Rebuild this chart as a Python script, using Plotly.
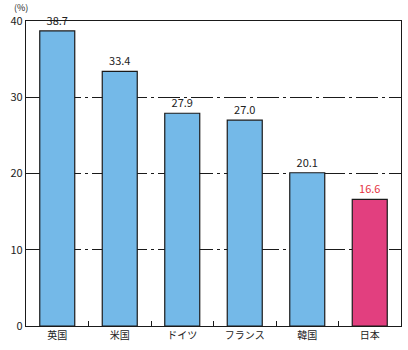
import plotly.graph_objects as go

countries = ["英国", "米国", "ドイツ", "フランス", "韓国", "日本"]
values = [38.7, 33.4, 27.9, 27.0, 20.1, 16.6]
bar_colors = ["#74B9E8"] * 5 + ["#E23F7F"]
label_colors = ["#222222"] * 5 + ["#E5333F"]
y_ticks = [0, 10, 20, 30, 40]

font_family = "Noto Sans CJK JP, Noto Sans, sans-serif"

fig = go.Figure(
    go.Bar(
        x=countries,
        y=values,
        width=0.56,
        marker=dict(color=bar_colors, line=dict(color="#1a1a1a", width=1.2)),
        text=[f"{v:.1f}" for v in values],
        textposition="outside",
        textfont=dict(color=label_colors, size=11, family=font_family),
        cliponaxis=False,
    )
)

fig.update_layout(
    width=408,
    height=350,
    margin=dict(l=26, r=7, t=21, b=24),
    plot_bgcolor="white",
    paper_bgcolor="white",
    showlegend=False,
    font=dict(family=font_family, size=11, color="#222222"),
    bargap=0.44,
)

fig.update_xaxes(
    showline=True,
    linecolor="#1a1a1a",
    linewidth=1.2,
    mirror=True,
    ticks="inside",
    tickson="boundaries",
    ticklen=5,
    tickcolor="#1a1a1a",
    tickfont=dict(size=10),
    showgrid=False,
)

fig.update_yaxes(
    range=[0, 40],
    tickvals=y_ticks,
    showline=True,
    linecolor="#1a1a1a",
    linewidth=1.2,
    mirror=True,
    ticks="",
    showgrid=True,
    gridcolor="#1a1a1a",
    gridwidth=1,
    griddash="22px,4px,3px,4px",
    zeroline=False,
    tickfont=dict(size=11),
)

# unit label above the value axis
fig.add_annotation(
    text="(%)", xref="paper", yref="paper", x=0, y=1,
    xanchor="right", yanchor="top", xshift=3, yshift=21,
    borderpad=0, showarrow=False, font=dict(size=9),
)

fig.write_html("out.html")
